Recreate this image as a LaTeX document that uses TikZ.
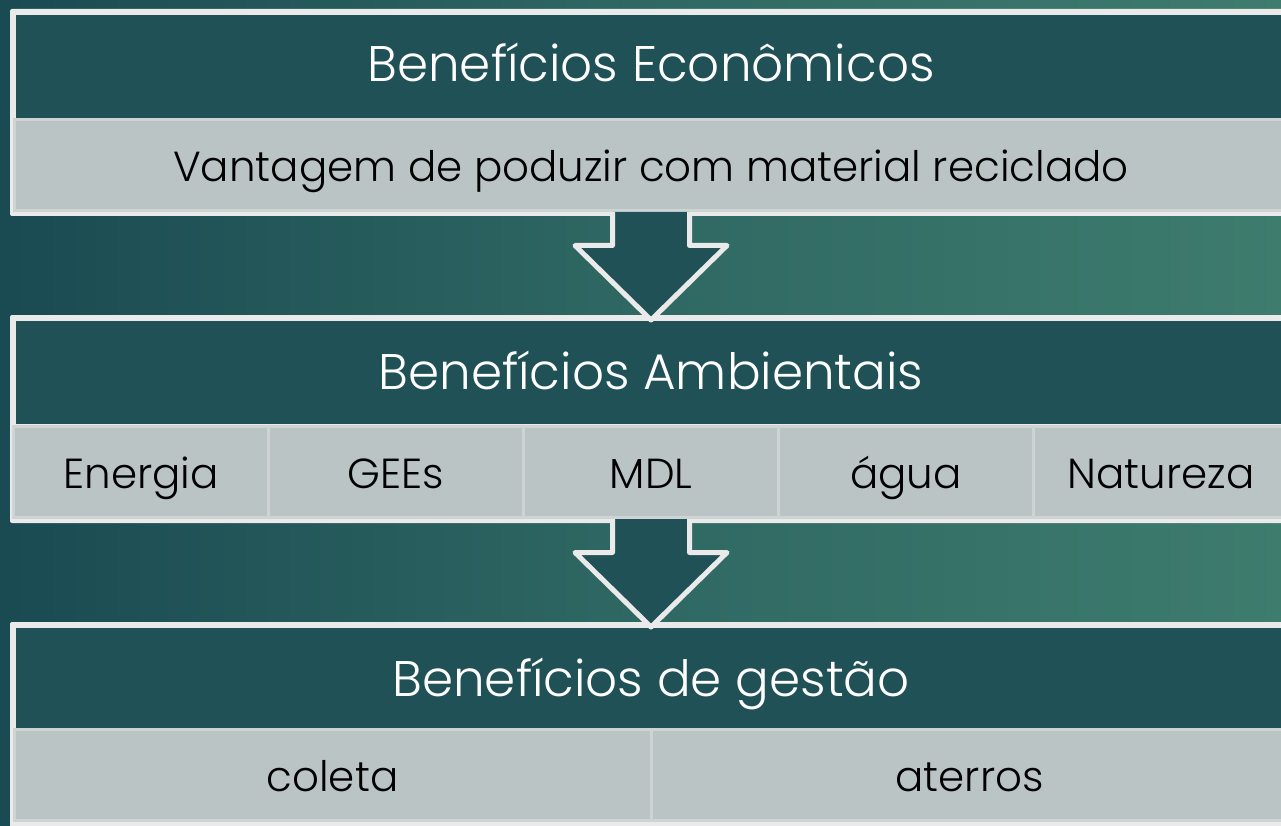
\documentclass[tikz,border=0pt]{standalone}
\usepackage{fontspec}
\IfFontExistsTF{Poppins Light}{\setmainfont{Poppins Light}}{\setmainfont{Poppins}}
\usetikzlibrary{calc}
\definecolor{bgL}{RGB}{26,74,82}
\definecolor{bgM}{RGB}{47,104,99}
\definecolor{bgR}{RGB}{62,124,110}
\definecolor{hdr}{RGB}{31,81,86}
\definecolor{cellc}{RGB}{187,196,197}
\definecolor{cellline}{RGB}{206,212,212}
\definecolor{framec}{RGB}{234,234,234}
\begin{document}
\begin{tikzpicture}[x=1pt,y=-1pt,
  framebox/.style={fill=framec, rounded corners=2pt},
  hdrfill/.style={fill=hdr},
  hdrtext/.style={text=white, inner sep=0pt, anchor=base, font=\fontsize{50}{58}\selectfont},
  cellbox/.style={fill=cellc, draw=cellline, line width=3pt, text=black, inner sep=0pt,
    minimum height=91pt, text height=40pt, text depth=7pt, font=\fontsize{42}{50}\selectfont},
  downarrow/.pic={\filldraw[fill=hdr, draw=framec, line width=5pt, line join=round]
     (-38.5,-108) -- (-38.5,-74.5) -- (-76,-74.5) -- (0,0) -- (76,-74.5) -- (38.5,-74.5) -- (38.5,-108);}
]
\useasboundingbox (0,0) rectangle (1281,826);
\clip (0,0) rectangle (1281,826);
\shade[left color=bgL, right color=bgR, middle color=bgM] (0,0) rectangle (1281,826);

% Block 1
\fill[framebox] (10,9) rectangle (1294,216);
\fill[hdrfill] (16,15) rectangle (1288,118);
\node[hdrtext] (h1) at (651,82) {Benefícios Econômicos};
\node[cellbox, minimum width=1274pt] (v1) at (651,165.5) {Vantagem de poduzir com material reciclado};

% Block 2
\fill[framebox] (10,315) rectangle (1294,523);
\fill[hdrfill] (16,321) rectangle (1288,424);
\node[hdrtext] (h2) at (651,389) {Benefícios Ambientais};
\node[cellbox, minimum width=255pt] (e1) at (141,471.5) {Energia};
\node[cellbox, minimum width=255pt] (e2) at (396,471.5) {GEEs};
\node[cellbox, minimum width=255pt] (e3) at (651,471.5) {MDL};
\node[cellbox, minimum width=255pt] (e4) at (906,471.5) {água};
\node[cellbox, minimum width=255pt] (e5) at (1161,471.5) {Natureza};

% Block 3
\fill[framebox] (10,622) rectangle (1294,832);
\fill[hdrfill] (16,628) rectangle (1288,728);
\node[hdrtext] (h3) at (651,696) {Benefícios de gestão};
\node[cellbox, minimum width=637pt] (g1) at (332.5,775) {coleta};
\node[cellbox, minimum width=637pt] (g2) at (969.5,775) {aterros};

% Arrows
\pic at (651,320) {downarrow};
\pic at (651,627) {downarrow};
\end{tikzpicture}
\end{document}
